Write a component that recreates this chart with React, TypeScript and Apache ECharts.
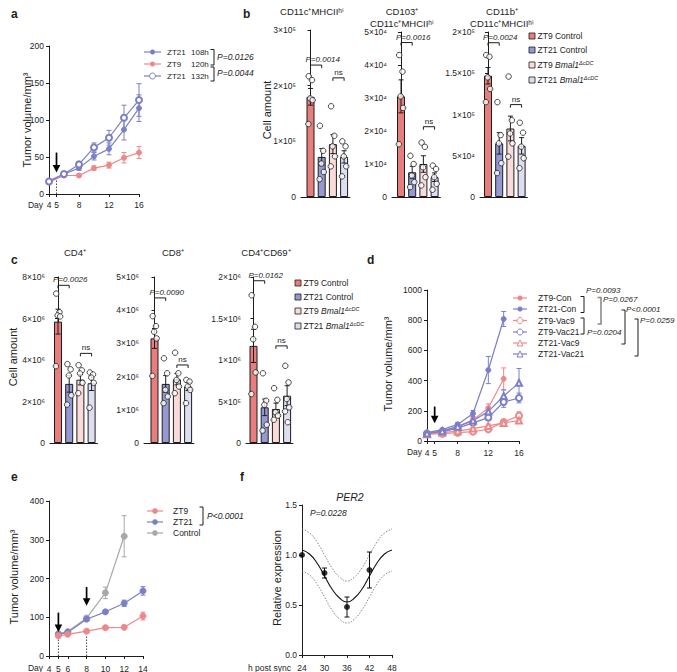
import React, { useEffect, useRef } from "react";
import * as echarts from "echarts";

// ---------------- data ----------------
// panel a
const daysA = [4, 6, 8, 10, 12, 14, 16];
const dayTicksA = [4, 5, 8, 12, 16];
const aNames = ["ZT21", "ZT9", "ZT21"];
const aHours = ["108h", "120h", "132h"];
const aZT21_108 = [18, 27, 35, 51, 61, 87, 116];
const aZT21_108Err = [2, 2, 3, 5, 8, 14, 18];
const aZT9_120 = [16, 25, 25, 35, 39, 49, 56];
const aZT9_120Err = [2, 2, 2, 3, 4, 7, 8];
const aZT21_132 = [17, 27, 40, 63, 76, 103, 127];
const aZT21_132Err = [2, 2, 4, 6, 10, 17, 22];
const aPvals = ["P=0.0126", "P=0.0044"];

// bar panels b, c
const barGroups = ["ZT9 Control", "ZT21 Control", "ZT9 Bmal1", "ZT21 Bmal1"];
const b1Mean = [1.8e5, 0.72e5, 0.95e5, 0.72e5];
const b1Sem = [0.15e5, 0.15e5, 0.17e5, 0.11e5];
const b1Pts = [[2.17e5, 2.1e5, 1.77e5, 1.74e5, 1.31e5], [1.28e5, 0.83e5, 0.6e5, 0.45e5, 0.32e5], [1.63e5, 1.1e5, 0.91e5, 0.73e5, 0.55e5], [1.0e5, 0.91e5, 0.73e5, 0.55e5, 0.37e5]];
const b2Mean = [3.05e4, 0.75e4, 1.0e4, 0.6e4];
const b2Sem = [0.5e4, 0.18e4, 0.25e4, 0.13e4];
const b2Pts = [[4.3e4, 3.8e4, 3.05e4, 2.7e4, 1.6e4], [1.25e4, 1.0e4, 0.65e4, 0.45e4, 0.3e4], [1.65e4, 1.52e4, 0.9e4, 0.6e4, 0.35e4], [0.95e4, 0.85e4, 0.6e4, 0.4e4, 0.22e4]];
const b3Mean = [1.47e5, 0.65e5, 0.83e5, 0.62e5];
const b3Sem = [0.1e5, 0.13e5, 0.15e5, 0.1e5];
const b3Pts = [[1.72e5, 1.7e5, 1.45e5, 1.31e5, 1.15e5], [1.15e5, 0.75e5, 0.65e5, 0.41e5, 0.29e5], [1.46e5, 0.93e5, 0.77e5, 0.65e5, 0.49e5], [0.9e5, 0.78e5, 0.61e5, 0.47e5, 0.35e5]];
const c1Mean = [5.85e6, 2.85e6, 3.05e6, 2.88e6];
const c1Sem = [0.6e6, 0.4e6, 0.25e6, 0.35e6];
const c1Pts = [[7.2e6, 6.3e6, 6.15e6, 6.1e6, 3.7e6], [3.8e6, 3.55e6, 3.25e6, 2.3e6, 1.85e6], [3.75e6, 3.5e6, 3.35e6, 2.9e6, 2.4e6], [3.4e6, 3.3e6, 3.15e6, 2.9e6, 1.7e6]];
const c2Mean = [3.15e6, 1.78e6, 1.92e6, 1.7e6];
const c2Sem = [0.3e6, 0.25e6, 0.17e6, 0.12e6];
const c2Pts = [[3.82e6, 3.52e6, 3.35e6, 3.15e6, 2.02e6], [2.55e6, 2.1e6, 1.6e6, 1.4e6, 1.2e6], [2.72e6, 2.1e6, 1.9e6, 1.7e6, 1.5e6], [1.9e6, 1.85e6, 1.7e6, 1.6e6, 1.2e6]];
const c3Mean = [1.17e6, 0.43e6, 0.41e6, 0.57e6];
const c3Sem = [0.2e6, 0.1e6, 0.07e6, 0.12e6];
const c3Pts = [[1.78e6, 1.4e6, 1.25e6, 0.85e6, 0.59e6], [0.84e6, 0.51e6, 0.46e6, 0.22e6, 0.15e6], [0.66e6, 0.52e6, 0.37e6, 0.33e6, 0.28e6], [0.93e6, 0.73e6, 0.53e6, 0.43e6, 0.38e6, 0.25e6]];

// panel d
const daysD = [4, 6, 8, 10, 12, 14, 16];
const dayTicksD = [4, 5, 8, 12, 16];
const dNames = ["ZT9-Con", "ZT21-Con", "ZT9-Vac9", "ZT9-Vac21", "ZT21-Vac9", "ZT21-Vac21"];
const dZT9Con = [50, 65, 95, 140, 218, 412];
const dZT9ConErr = [5, 6, 10, 15, 28, 72];
const dZT21Con = [55, 75, 110, 182, 470, 808];
const dZT21ConErr = [5, 8, 12, 20, 90, 50];
const dZT9Vac9 = [45, 48, 55, 62, 78, 125, 168];
const dZT9Vac9Err = [3, 4, 5, 8, 12, 18, 25];
const dZT9Vac21 = [50, 60, 85, 120, 155, 258, 285];
const dZT9Vac21Err = [4, 6, 8, 12, 20, 35, 32];
const dZT21Vac9 = [45, 55, 65, 82, 100, 120, 135];
const dZT21Vac9Err = [3, 4, 5, 8, 12, 15, 18];
const dZT21Vac21 = [50, 65, 95, 135, 195, 298, 385];
const dZT21Vac21Err = [4, 6, 10, 15, 25, 40, 95];
const dPvals = ["P=0.0093", "P=0.0267", "P=0.0204", "P<0.0001", "P=0.0259"];

// panel e
const daysE = [5, 6, 8, 10, 12, 14];
const daysECtrl = [5, 6, 8, 10, 12];
const dayTicksE = [4, 5, 6, 8, 10, 12, 14];
const eNames = ["ZT9", "ZT21", "Control"];
const eZT9 = [52, 56, 64, 73, 74, 103];
const eZT9Err = [3, 3, 4, 4, 4, 10];
const eZT21 = [56, 61, 95, 114, 136, 168];
const eZT21Err = [3, 3, 4, 4, 8, 11];
const eCtrl = [58, 63, 98, 163, 309];
const eCtrlErr = [3, 3, 5, 15, 53];

// panel f
const fHours = [24, 30, 36, 42];
const fExpr = [1.0, 0.82, 0.48, 0.85];
const fExprErr = [0, 0.05, 0.1, 0.18];
const fFitHours = [24, 26, 28, 30, 32, 34, 36, 38, 40, 42, 44, 46, 48];
const fFit = [1.05, 1.01, 0.92, 0.79, 0.66, 0.57, 0.53, 0.57, 0.66, 0.79, 0.92, 1.01, 1.05];
const fUpper = [1.26, 1.22, 1.13, 1.0, 0.87, 0.78, 0.74, 0.78, 0.87, 1.0, 1.13, 1.22, 1.26];
const fLower = [0.84, 0.8, 0.71, 0.58, 0.45, 0.36, 0.32, 0.36, 0.45, 0.58, 0.71, 0.8, 0.84];
const fHourTicks = [24, 30, 36, 42, 48];

// ---------------- styling ----------------
const FONT = "'Liberation Sans', Arial, Helvetica, sans-serif";
const INK = "#1d1d1d";
const PINK = "#ee8888";
const BLUE = "#7b7fc8";
const GREY = "#a8a8a8";
const BAR_FILL = ["#e77d7d", "#9598d3", "#fadada", "#dddef2"];
const JIT = [-0.16, 0.13, -0.03, 0.19, -0.19, 0.06];

const SUPS = "⁰¹²³⁴⁵⁶⁷⁸⁹";
function sup(n: number) {
  return String(n).split("").map((c) => SUPS[+c]).join("");
}
function sci(v: number) {
  if (v === 0) return "0";
  const e = Math.floor(Math.log10(v) + 1e-9);
  const m = Math.round((v / Math.pow(10, e)) * 100) / 100;
  return `${m}×10${sup(e)}`;
}
const plain = (v: number) => String(v);

function buildOption() {
  const grids: any[] = [];
  const xAxes: any[] = [];
  const yAxes: any[] = [];
  const series: any[] = [];
  const g: any[] = [];

  const AXL = { show: true, lineStyle: { color: INK, width: 1 } };
  const TICK = { show: true, length: 3, lineStyle: { color: INK, width: 1 } };

  function addGrid(left: number, top: number, width: number, height: number, x: any, y: any) {
    grids.push({ left, top, width, height, outerBoundsMode: "none", containLabel: false });
    const gi = grids.length - 1;
    xAxes.push({ gridIndex: gi, ...x });
    yAxes.push({ gridIndex: gi, ...y });
    return gi;
  }
  function yVal(min: number, max: number, interval: number, formatter: any = plain) {
    return {
      type: "value", min, max, interval,
      axisLine: AXL, axisTick: TICK, splitLine: { show: false },
      axisLabel: { fontSize: 8.5, fontFamily: FONT, color: INK, margin: 5, formatter },
    };
  }
  function xVal(min: number, max: number, ticks: number[], margin: number) {
    return {
      type: "value", min, max,
      axisLine: AXL, splitLine: { show: false },
      axisTick: { ...TICK, customValues: ticks },
      axisLabel: { fontSize: 8.5, fontFamily: FONT, color: INK, margin, customValues: ticks, formatter: plain },
    };
  }
  function errSeries(gi: number, data: number[][], color: string, cap: number) {
    return {
      type: "custom", xAxisIndex: gi, yAxisIndex: gi, silent: true, clip: false, z: 3,
      data,
      renderItem: (_p: any, api: any) => {
        const x = api.value(0), y = api.value(1), e = api.value(2);
        if (!(e > 0)) return { type: "group", children: [] };
        const a = api.coord([x, y + e]);
        const b = api.coord([x, y - e]);
        const st = { stroke: color, lineWidth: 1 };
        return {
          type: "group",
          children: [
            { type: "line", shape: { x1: a[0], y1: a[1], x2: b[0], y2: b[1] }, style: st },
            { type: "line", shape: { x1: a[0] - cap, y1: a[1], x2: a[0] + cap, y2: a[1] }, style: st },
            { type: "line", shape: { x1: b[0] - cap, y1: b[1], x2: b[0] + cap, y2: b[1] }, style: st },
          ],
        };
      },
    };
  }
  function lineSeries(gi: number, xs: number[], ys: number[], errs: number[], color: string, symbol: string, size: number) {
    series.push(errSeries(gi, xs.map((x, i) => [x, ys[i], errs[i]]), color, 2.5));
    series.push({
      type: "line", xAxisIndex: gi, yAxisIndex: gi, z: 4,
      data: xs.map((x, i) => [x, ys[i]]),
      symbol, symbolSize: size, showSymbol: true,
      itemStyle: { color, borderColor: color, borderWidth: 1 },
      lineStyle: { color, width: 1.2 },
    });
  }
  function arrowSeries(gi: number, data: number[][]) {
    return {
      type: "custom", xAxisIndex: gi, yAxisIndex: gi, silent: true, clip: false, z: 8, data,
      renderItem: (_p: any, api: any) => {
        const a = api.coord([api.value(0), api.value(1)]);
        const b = api.coord([api.value(0), api.value(2)]);
        return {
          type: "group",
          children: [
            { type: "line", shape: { x1: a[0], y1: a[1], x2: b[0], y2: b[1] - 6 }, style: { stroke: "#000", lineWidth: 1.7 } },
            { type: "polygon", shape: { points: [[b[0] - 3.8, b[1] - 7.5], [b[0] + 3.8, b[1] - 7.5], [b[0], b[1]]] }, style: { fill: "#000" } },
          ],
        };
      },
    };
  }
  function dottedSeries(gi: number, data: number[][]) {
    return {
      type: "custom", xAxisIndex: gi, yAxisIndex: gi, silent: true, clip: false, z: 2, data,
      renderItem: (_p: any, api: any) => {
        const a = api.coord([api.value(0), api.value(1)]);
        const b = api.coord([api.value(0), api.value(2)]);
        return { type: "line", shape: { x1: a[0], y1: a[1], x2: b[0], y2: b[1] }, style: { stroke: "#333", lineWidth: 0.9, lineDash: [1.5, 1.5] } };
      },
    };
  }
  function bracketSeries(gi: number, data: number[][], labels: string[]) {
    return {
      type: "custom", xAxisIndex: gi, yAxisIndex: gi, silent: true, clip: false, z: 6, data,
      renderItem: (p: any, api: any) => {
        const a = api.coord([api.value(0), api.value(2)]);
        const b = api.coord([api.value(1), api.value(2)]);
        const lab = labels[p.dataIndex];
        const isP = lab !== "ns";
        return {
          type: "group",
          children: [
            { type: "polyline", shape: { points: [[a[0], a[1] + 3], [a[0], a[1]], [b[0], b[1]], [b[0], b[1] + 3]] }, style: { stroke: INK, lineWidth: 1, fill: null } },
            {
              type: "text", x: isP ? a[0] - 5 : (a[0] + b[0]) / 2, y: a[1] - 1.5,
              style: {
                text: lab, fontSize: 8, fontFamily: FONT, fontStyle: isP ? "italic" : "normal", fill: INK,
                align: isP ? "left" : "center", textAlign: isP ? "left" : "center",
                verticalAlign: "bottom", textVerticalAlign: "bottom",
              },
            },
          ],
        };
      },
    };
  }
  function barPanel(p: any) {
    const band = 11.2;
    const xMin = -(p.firstCenter - p.axisX) / band;
    const xMax = 3.52;
    const gi = addGrid(
      p.axisX, p.top, (xMax - xMin) * band, p.height,
      { type: "value", min: xMin, max: xMax, axisLine: AXL, axisTick: { show: false }, axisLabel: { show: false }, splitLine: { show: false } },
      yVal(0, p.max, p.interval, sci)
    );
    series.push({
      type: "bar", xAxisIndex: gi, yAxisIndex: gi, barWidth: 8, z: 2,
      data: p.mean.map((m: number, i: number) => ({ value: [i, m], itemStyle: { color: BAR_FILL[i], borderColor: INK, borderWidth: 1 } })),
    });
    series.push(errSeries(gi, p.mean.map((m: number, i: number) => [i, m, p.sem[i]]), INK, 2.5));
    series.push({
      type: "scatter", xAxisIndex: gi, yAxisIndex: gi, z: 5,
      symbol: "circle", symbolSize: 5.5,
      itemStyle: { color: "#fff", borderColor: INK, borderWidth: 1 },
      data: p.pts.flatMap((arr: number[], i: number) => arr.map((v, k) => [i + JIT[k], v])),
    });
    series.push(bracketSeries(gi, [[0, 1, p.pAt], [2, 3, p.nsAt]], [p.pLabel, "ns"]));
  }

  // graphic helpers
  function T(x: number, y: number, text: string, o: any = {}) {
    g.push({
      type: "text", x, y, rotation: o.rotation || 0, silent: true,
      style: {
        text, fontSize: o.size || 8.5, fontFamily: FONT,
        fontStyle: o.italic ? "italic" : "normal", fontWeight: o.bold ? "bold" : "normal",
        fill: o.color || INK,
        align: o.align || "left", textAlign: o.align || "left",
        verticalAlign: o.va || "middle", textVerticalAlign: o.va || "middle",
        rich: o.rich,
      },
    });
  }
  function legLine(x1: number, x2: number, y: number, color: string, marker: string, size: number) {
    g.push({ type: "line", silent: true, shape: { x1, y1: y, x2, y2: y }, style: { stroke: color, lineWidth: 1.2 } });
    const cx = (x1 + x2) / 2;
    if (marker === "circle") g.push({ type: "circle", silent: true, shape: { cx, cy: y, r: size / 2 }, style: { fill: color } });
    else if (marker === "emptyCircle") g.push({ type: "circle", silent: true, shape: { cx, cy: y, r: size / 2 }, style: { fill: "#fff", stroke: color, lineWidth: 1 } });
    else g.push({ type: "polygon", silent: true, shape: { points: [[cx, y - size / 2], [cx - size / 2, y + size / 2], [cx + size / 2, y + size / 2]] }, style: { fill: "#fff", stroke: color, lineWidth: 1 } });
  }
  function bracketR(x: number, y1: number, y2: number, color = INK, w = 1) {
    g.push({ type: "polyline", silent: true, shape: { points: [[x - 3.5, y1], [x, y1], [x, y2], [x - 3.5, y2]] }, style: { stroke: color, lineWidth: w, fill: null } });
  }
  const richBmal = {
    n: { fontSize: 8.5, fontFamily: FONT, fill: INK, lineHeight: 11 },
    i: { fontSize: 8.5, fontFamily: FONT, fill: INK, fontStyle: "italic", lineHeight: 11 },
    s: { fontSize: 5.5, fontFamily: FONT, fill: INK, fontStyle: "italic", verticalAlign: "top", lineHeight: 7 },
  };
  function barLegend(x: number, ys: number[]) {
    ys.forEach((y, i) => {
      g.push({ type: "rect", silent: true, shape: { x, y: y - 3, width: 6, height: 6 }, style: { fill: BAR_FILL[i], stroke: INK, lineWidth: 0.8 } });
      const name = barGroups[i];
      if (name.indexOf("Bmal1") >= 0) {
        const pre = name.split(" ")[0];
        T(x + 8.5, y, `{n|${pre} }{i|Bmal1}{s|ΔcDC}`, { rich: richBmal });
      } else {
        T(x + 8.5, y, name);
      }
    });
  }

  // ---------- panel a ----------
  const ga = addGrid(49, 46, 90, 148, xVal(4, 16, dayTicksA, 6), yVal(0, 200, 50));
  lineSeries(ga, daysA, aZT9_120, aZT9_120Err, PINK, "circle", 5);
  lineSeries(ga, daysA, aZT21_108, aZT21_108Err, BLUE, "circle", 5);
  lineSeries(ga, daysA, aZT21_132, aZT21_132Err, BLUE, "emptyCircle", 6);
  series.push(dottedSeries(ga, [[5, 0, 22]]));
  series.push(arrowSeries(ga, [[5, 56, 29]]));
  T(11, 14, "a", { bold: true, size: 12 });
  T(27, 120, "Tumor volume/mm³", { rotation: Math.PI / 2, align: "center", size: 11 });
  T(43, 205, "Day", { align: "right", size: 8.5 });
  const aRows = [52, 64, 76];
  legLine(144, 161, aRows[0], BLUE, "circle", 5);
  legLine(144, 161, aRows[1], PINK, "circle", 5);
  legLine(144, 161, aRows[2], BLUE, "emptyCircle", 6);
  aRows.forEach((y, i) => {
    T(167, y, aNames[i], { size: 8 });
    T(191, y, aHours[i], { size: 8 });
  });
  bracketR(214, 49.5, 65);
  bracketR(214, 67, 81);
  T(217, 57, aPvals[0], { italic: true, size: 8.5 });
  T(217, 73, aPvals[1], { italic: true, size: 8.5 });

  // ---------- panel b ----------
  barPanel({ axisX: 301, firstCenter: 310.5, top: 30, height: 167, max: 3e5, interval: 1e5, mean: b1Mean, sem: b1Sem, pts: b1Pts, pAt: 2.37e5, nsAt: 2.14e5, pLabel: "P=0.0014" });
  barPanel({ axisX: 392, firstCenter: 401, top: 32, height: 165, max: 5e4, interval: 1e4, mean: b2Mean, sem: b2Sem, pts: b2Pts, pAt: 4.68e4, nsAt: 2.13e4, pLabel: "P=0.0016" });
  barPanel({ axisX: 480, firstCenter: 488, top: 32, height: 165, max: 2e5, interval: 5e4, mean: b3Mean, sem: b3Sem, pts: b3Pts, pAt: 1.87e5, nsAt: 1.12e5, pLabel: "P=0.0024" });
  T(243, 14, "b", { bold: true, size: 12 });
  T(267, 110, "Cell amount", { rotation: Math.PI / 2, align: "center", size: 11 });
  T(312, 11, "CD11c⁺MHCIIʰⁱ", { align: "center", size: 9.5 });
  T(402, 11, "CD103⁺", { align: "center", size: 9.5 });
  T(402, 23, "CD11c⁺MHCIIʰⁱ", { align: "center", size: 9.5 });
  T(502, 11, "CD11b⁺", { align: "center", size: 9.5 });
  T(502, 23, "CD11c⁺MHCIIʰⁱ", { align: "center", size: 9.5 });
  barLegend(529, [36, 50, 65, 80]);

  // ---------- panel c ----------
  barPanel({ axisX: 50, firstCenter: 58, top: 277, height: 166, max: 8e6, interval: 2e6, mean: c1Mean, sem: c1Sem, pts: c1Pts, pAt: 7.6e6, nsAt: 4.32e6, pLabel: "P=0.0026" });
  barPanel({ axisX: 144, firstCenter: 154.5, top: 277, height: 166, max: 5e6, interval: 1e6, mean: c2Mean, sem: c2Sem, pts: c2Pts, pAt: 4.37e6, nsAt: 2.35e6, pLabel: "P=0.0090" });
  barPanel({ axisX: 246, firstCenter: 253.5, top: 277, height: 166, max: 2e6, interval: 5e5, mean: c3Mean, sem: c3Sem, pts: c3Pts, pAt: 1.955e6, nsAt: 1.17e6, pLabel: "P=0.0162" });
  T(11, 260, "c", { bold: true, size: 12 });
  T(13, 357, "Cell amount", { rotation: Math.PI / 2, align: "center", size: 11 });
  T(75, 252, "CD4⁺", { align: "center", size: 9.5 });
  T(173, 252, "CD8⁺", { align: "center", size: 9.5 });
  T(266, 252, "CD4⁺CD69⁺", { align: "center", size: 9.5 });
  barLegend(295, [283, 297, 311, 326]);

  // ---------- panel d ----------
  const gd = addGrid(427, 290, 92, 151, xVal(4, 16, dayTicksD, 7), yVal(0, 1000, 200));
  lineSeries(gd, daysD.slice(0, 6), dZT9Con, dZT9ConErr, PINK, "circle", 5);
  lineSeries(gd, daysD.slice(0, 6), dZT21Con, dZT21ConErr, BLUE, "circle", 5);
  lineSeries(gd, daysD, dZT9Vac9, dZT9Vac9Err, PINK, "emptyCircle", 6);
  lineSeries(gd, daysD, dZT9Vac21, dZT9Vac21Err, BLUE, "emptyCircle", 6);
  lineSeries(gd, daysD, dZT21Vac9, dZT21Vac9Err, PINK, "emptyTriangle", 6);
  lineSeries(gd, daysD, dZT21Vac21, dZT21Vac21Err, BLUE, "emptyTriangle", 6);
  series.push(arrowSeries(gd, [[5, 228, 118]]));
  T(367, 260, "d", { bold: true, size: 12 });
  T(388, 364, "Tumor volume/mm³", { rotation: Math.PI / 2, align: "center", size: 11 });
  T(422, 452, "Day", { align: "right", size: 8.5 });
  const dRows = [298, 309, 320.5, 332, 343, 354];
  const dCol = [PINK, BLUE, PINK, BLUE, PINK, BLUE];
  const dMk = ["circle", "circle", "emptyCircle", "emptyCircle", "triangle", "triangle"];
  dRows.forEach((y, i) => {
    legLine(513, 527, y, dCol[i], dMk[i], dMk[i] === "circle" ? 5 : 6);
    T(538, y, dNames[i]);
  });
  bracketR(584, 296.5, 312.5);
  T(586, 290.5, dPvals[0], { italic: true, size: 8 });
  bracketR(601, 297.5, 324, "#8a8a8a", 1.6);
  T(603, 299, dPvals[1], { italic: true, size: 8 });
  bracketR(625, 310, 344);
  T(626, 309, dPvals[3], { italic: true, size: 8 });
  bracketR(584, 318, 334);
  T(587, 332, dPvals[2], { italic: true, size: 8 });
  bracketR(638, 319, 356);
  T(640, 320, dPvals[4], { italic: true, size: 8 });

  // ---------- panel e ----------
  const ge = addGrid(49, 501, 94, 155, xVal(4, 14, dayTicksE, 8), yVal(0, 400, 100));
  lineSeries(ge, daysECtrl, eCtrl, eCtrlErr, GREY, "circle", 6);
  lineSeries(ge, daysE, eZT21, eZT21Err, BLUE, "circle", 6);
  lineSeries(ge, daysE, eZT9, eZT9Err, PINK, "circle", 6);
  series.push(dottedSeries(ge, [[5, 0, 45], [8, 0, 54]]));
  series.push(arrowSeries(ge, [[5, 112, 62], [8, 178, 130]]));
  T(11, 477, "e", { bold: true, size: 12 });
  T(14, 577, "Tumor volume/mm³", { rotation: Math.PI / 2, align: "center", size: 11 });
  T(43, 668, "Day", { align: "right", size: 8.5 });
  const eRows = [511, 522, 533];
  const eCol = [PINK, BLUE, GREY];
  eRows.forEach((y, i) => {
    legLine(147, 163, y, eCol[i], "circle", 5.5);
    T(173, y, eNames[i]);
  });
  bracketR(203, 507, 525);
  T(207, 516, "P<0.0001", { italic: true, size: 8.5 });

  // ---------- panel f ----------
  const gf = addGrid(302, 505, 90, 150, xVal(24, 48, fHourTicks, 8), yVal(0, 1.5, 0.5, (v: number) => v.toFixed(1)));
  series.push({ type: "line", xAxisIndex: gf, yAxisIndex: gf, data: fFitHours.map((h, i) => [h, fUpper[i]]), smooth: true, showSymbol: false, lineStyle: { color: "#777", width: 0.9, type: [1.5, 1.5] }, z: 2 });
  series.push({ type: "line", xAxisIndex: gf, yAxisIndex: gf, data: fFitHours.map((h, i) => [h, fLower[i]]), smooth: true, showSymbol: false, lineStyle: { color: "#777", width: 0.9, type: [1.5, 1.5] }, z: 2 });
  series.push({ type: "line", xAxisIndex: gf, yAxisIndex: gf, data: fFitHours.map((h, i) => [h, fFit[i]]), smooth: true, showSymbol: false, lineStyle: { color: "#111", width: 1.1 }, z: 3 });
  series.push(errSeries(gf, fHours.map((h, i) => [h, fExpr[i], fExprErr[i]]), "#111", 2.5));
  series.push({ type: "scatter", xAxisIndex: gf, yAxisIndex: gf, data: fHours.map((h, i) => [h, fExpr[i]]), symbol: "circle", symbolSize: 6, itemStyle: { color: "#000" }, z: 5 });
  T(240, 477, "f", { bold: true, size: 12 });
  T(277, 578, "Relative expression", { rotation: Math.PI / 2, align: "center", size: 11 });
  T(291, 668, "h post sync", { align: "right", size: 8.5 });
  T(350, 497, "PER2", { italic: true, align: "center", size: 10.5 });
  T(310, 513, "P=0.0228", { italic: true, size: 8.5 });

  return {
    animation: false,
    backgroundColor: "#fff",
    textStyle: { fontFamily: FONT },
    grid: grids,
    xAxis: xAxes,
    yAxis: yAxes,
    series,
    graphic: { elements: g },
  };
}

export default function App() {
  const ref = useRef<HTMLDivElement>(null);
  useEffect(() => {
    document.body.style.margin = "0";
    const chart = echarts.init(ref.current!, null, { renderer: "svg" });
    chart.setOption(buildOption() as any);
    return () => chart.dispose();
  }, []);
  return <div ref={ref} style={{ width: 677, height: 672 }} />;
}
